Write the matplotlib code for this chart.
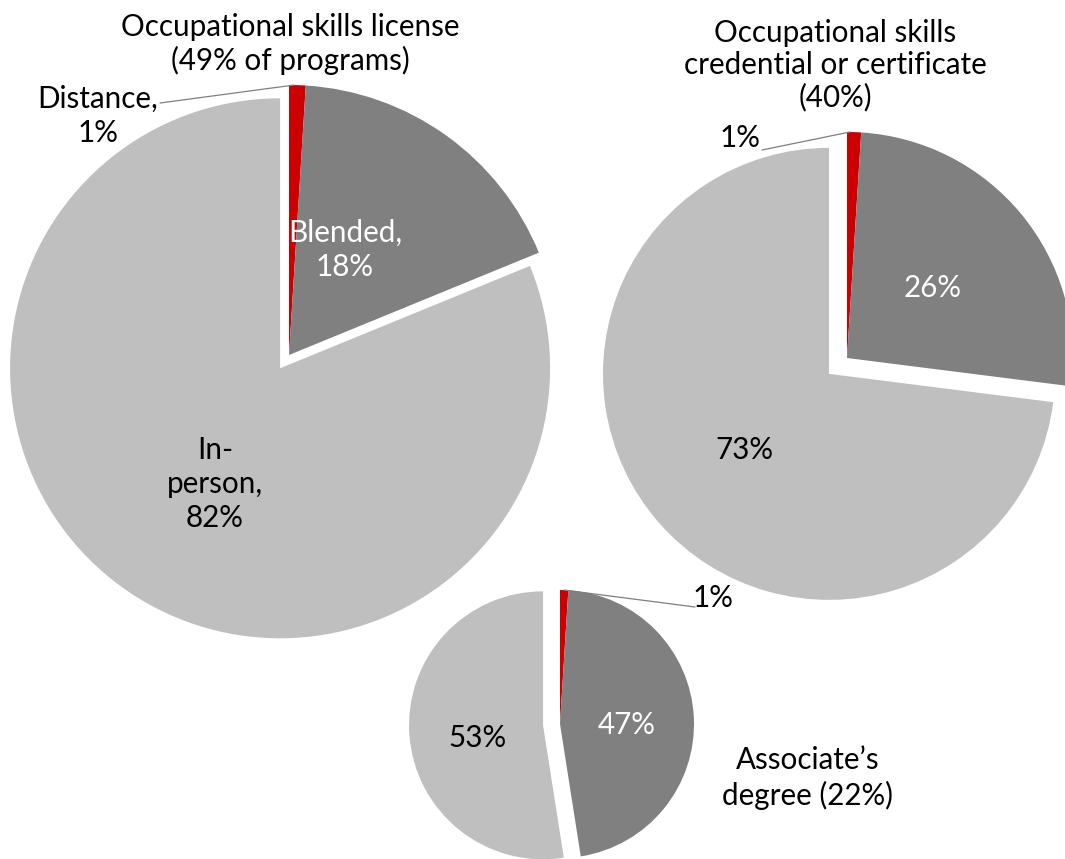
import matplotlib.pyplot as plt
import numpy as np

plt.rcParams['font.family'] = ['Lato', 'DejaVu Sans']

# shares of programs by delivery mode (distance, blended, in-person)
modes = ["Distance", "Blended", "In-person"]
license_share = [1, 18, 82]
certificate_share = [1, 26, 73]
associate_share = [1, 47, 53]

titles = ["Occupational skills license\n(49% of programs)",
          "Occupational skills\ncredential or certificate\n(40%)",
          "Associate\u2019s\ndegree (22%)"]

colors = ["#CC0000", "#808080", "#BFBFBF"]

W, H = 1065, 859


def Y(y):
    # pixel row (from top) -> data y
    return H - y


fig = plt.figure(figsize=(W / 100, H / 100), dpi=100)
ax = fig.add_axes([0, 0, 1, 1])


def drawPie(values, cx, cy, r, explode):
    # explode is in data units (pixels here), applied to the big slice
    wedges, _ = ax.pie(values, colors=colors, startangle=90, counterclock=False,
                       center=(cx, Y(cy)), radius=r,
                       explode=[0, 0, explode], wedgeprops=dict(linewidth=0))
    return wedges


def arcPoint(wedge, frac=0.5):
    cx, cy = wedge.center
    a = np.deg2rad(wedge.theta1 + (wedge.theta2 - wedge.theta1) * frac)
    return cx + wedge.r * np.cos(a), cy + wedge.r * np.sin(a)


fs = 21.3
ls = 1.28
lineColor = "#7F7F7F"

w1 = drawPie(license_share, 289, 355, 270, 16)
w2 = drawPie(certificate_share, 847, 358, 226, 24)
w3 = drawPie(associate_share, 560, 724, 134, 17)

# pie() resets the limits, so fix the canvas afterwards
ax.set_xlim(0, W)
ax.set_ylim(0, H)
ax.set_aspect('equal')
ax.axis('off')

# pie 1 - license
ax.text(290, Y(44), titles[0], ha='center', va='center', fontsize=fs, linespacing=1.2)
ax.text(98, Y(116), f"{modes[0]},\n{license_share[0]}%", ha='center', va='center', fontsize=fs,
        linespacing=ls)
ax.annotate("", xy=arcPoint(w1[0], 0.7), xytext=(160, Y(103)),
            arrowprops=dict(arrowstyle='-', color=lineColor, lw=0.9, shrinkA=0, shrinkB=0))
ax.text(345, Y(250), f"{modes[1]},\n{license_share[1]}%", ha='center', va='center', fontsize=fs,
        color='white', linespacing=ls)
ax.text(215, Y(484), f"In-\nperson,\n{license_share[2]}%", ha='center', va='center', fontsize=fs,
        linespacing=ls)

# pie 2 - credential or certificate
ax.text(835, Y(65), titles[1], ha='center', va='center', fontsize=fs, linespacing=1.17)
ax.text(740, Y(138), f"{certificate_share[0]}%", ha='center', va='center', fontsize=fs)
ax.annotate("", xy=arcPoint(w2[0], 0.8), xytext=(762, Y(150)),
            arrowprops=dict(arrowstyle='-', color=lineColor, lw=0.9, shrinkA=0, shrinkB=0))
ax.text(933, Y(288), f"{certificate_share[1]}%", ha='center', va='center', fontsize=fs,
        color='white')
ax.text(744, Y(450), f"{certificate_share[2]}%", ha='center', va='center', fontsize=fs)

# pie 3 - associate's degree
ax.text(713, Y(598), f"{associate_share[0]}%", ha='center', va='center', fontsize=fs)
ax.annotate("", xy=arcPoint(w3[0], 0.5), xytext=(695, Y(607)),
            arrowprops=dict(arrowstyle='-', color=lineColor, lw=0.9, shrinkA=0, shrinkB=0))
ax.text(627, Y(725), f"{associate_share[1]}%", ha='center', va='center', fontsize=fs,
        color='white')
ax.text(477, Y(738), f"{associate_share[2]}%", ha='center', va='center', fontsize=fs)
ax.text(808, Y(778), titles[2], ha='center', va='center', fontsize=fs, linespacing=ls)

fig.savefig("out.png", dpi=100, facecolor='white')
